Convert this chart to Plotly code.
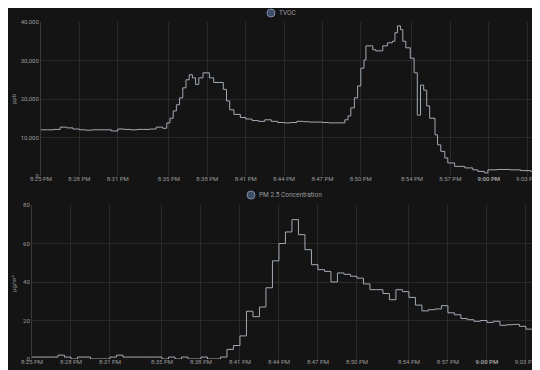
import plotly.graph_objects as go

DAY = "2023-01-01 "

TICK_TIMES = ["20:25", "20:28", "20:31", "20:35", "20:38", "20:41", "20:44",
              "20:47", "20:50", "20:54", "20:57", "21:00", "21:03"]
TICK_TEXT = ["8:25 PM", "8:28 PM", "8:31 PM", "8:35 PM", "8:38 PM", "8:41 PM", "8:44 PM",
             "8:47 PM", "8:50 PM", "8:54 PM", "8:57 PM", "<b>9:00 PM</b>", "9:03 PM"]

TVOC_TIMES = [
    "20:25:00", "20:25:30", "20:26:00", "20:26:30", "20:27:00", "20:27:30", "20:28:00",
    "20:28:30", "20:29:00", "20:29:30", "20:30:00", "20:30:30", "20:31:00", "20:31:30",
    "20:32:00", "20:32:30", "20:33:00", "20:33:30", "20:34:00", "20:34:30", "20:34:50",
    "20:35:05", "20:35:20", "20:35:35", "20:35:50", "20:36:05", "20:36:20", "20:36:35",
    "20:36:50", "20:37:05", "20:37:20", "20:37:40", "20:38:10", "20:38:30", "20:39:15",
    "20:39:30", "20:39:45", "20:40:05", "20:40:35", "20:41:00", "20:41:30", "20:42:00",
    "20:42:30", "20:43:00", "20:43:30", "20:44:00", "20:44:30", "20:45:00", "20:45:30",
    "20:46:00", "20:46:30", "20:47:00", "20:47:30", "20:48:00", "20:48:45", "20:49:00",
    "20:49:13", "20:49:30", "20:49:45", "20:50:00", "20:50:15", "20:50:24", "20:50:56",
    "20:51:10", "20:51:43", "20:52:05", "20:52:28", "20:52:40", "20:52:52", "20:53:06",
    "20:53:17", "20:53:31", "20:53:52", "20:54:10", "20:54:25", "20:54:40", "20:54:55",
    "20:55:09", "20:55:23", "20:55:48", "20:56:00", "20:56:15", "20:56:34", "20:56:48",
    "20:57:20", "20:58:08", "20:58:45", "20:59:09", "20:59:40", "20:59:56", "21:00:40",
    "21:01:40", "21:02:30", "21:03:17", "21:04:00", "21:04:40"]
TVOC_VALUES = [
    12000, 12000, 12100, 12700, 12500, 12200, 12000,
    11900, 12000, 12000, 12000, 11700, 12200, 12100,
    12000, 12100, 12100, 12200, 12700, 12400, 13800,
    15000, 16900, 18500, 20300, 22900, 25000, 26300,
    25500, 23800, 25500, 26800, 25500, 24300, 22500,
    19500, 17200, 16000, 15200, 14800, 14400, 14200,
    14600, 14200, 13900, 13800, 13900, 14200, 14100,
    14000, 14000, 13900, 13800, 13800, 14600, 15600,
    17700, 20300, 23400, 28000, 30100, 33800, 32800,
    32500, 33800, 34600, 35000, 37200, 39000, 38000,
    35000, 33300, 30600, 26800, 15800, 23600, 22300,
    18200, 15000, 10700, 8100, 6400, 4700, 3400,
    2500, 2100, 1600, 1200, 800, 1600, 1700,
    1600, 1400, 1200, 900, 800]

PM_TIMES = [
    "20:25:00", "20:25:30", "20:26:00", "20:26:30", "20:27:00", "20:27:30", "20:28:00",
    "20:28:30", "20:29:00", "20:29:30", "20:30:00", "20:30:30", "20:31:00", "20:31:30",
    "20:32:00", "20:32:30", "20:33:00", "20:33:30", "20:34:00", "20:34:30", "20:35:00",
    "20:35:30", "20:36:00", "20:36:30", "20:37:00", "20:37:30", "20:38:00", "20:38:30",
    "20:39:00", "20:39:30", "20:40:00", "20:40:30", "20:41:00", "20:41:30", "20:42:00",
    "20:42:30", "20:43:00", "20:43:30", "20:44:00", "20:44:30", "20:45:00", "20:45:30",
    "20:46:00", "20:46:30", "20:47:00", "20:47:30", "20:48:00", "20:48:30", "20:49:00",
    "20:49:30", "20:50:00", "20:50:30", "20:51:00", "20:51:30", "20:52:00", "20:52:30",
    "20:53:00", "20:53:30", "20:54:00", "20:54:30", "20:55:00", "20:55:30", "20:56:00",
    "20:56:30", "20:57:00", "20:57:30", "20:58:00", "20:58:30", "20:59:00", "20:59:30",
    "21:00:00", "21:00:30", "21:01:00", "21:01:30", "21:02:00", "21:02:30", "21:03:00",
    "21:03:30", "21:04:00", "21:04:30"]
PM_VALUES = [
    1, 1, 1, 1, 2, 1, 0,
    1, 1, 0, 0, 0, 1, 2,
    1, 1, 1, 1, 1, 1, 0,
    1, 0, 1, 0, 0, 1, 0,
    0, 1, 5, 7, 12, 24.8, 22,
    27, 37, 51, 60, 66, 72.4, 64.6,
    56.8, 49, 46.4, 45.5, 40, 44.7, 44,
    43, 42, 39, 36, 36, 34, 30.8,
    36, 35, 32, 28, 25, 25.6, 26,
    27.7, 24, 23, 21, 20.4, 19.6, 20,
    19, 19.6, 17.5, 17.8, 18, 17, 15.5,
    16, 15.2, 14.9, 13.5]

W, H = 540, 370
BG = "#141414"
GRID = "#2a2a2a"
LINE = "#a2aab4"
TXT = "#9a9a9a"
FONT = "Roboto"

fig = go.Figure()
fig.add_trace(go.Scatter(x=[DAY + t for t in TVOC_TIMES], y=TVOC_VALUES, mode="lines",
                         line=dict(color=LINE, width=1, shape="hv"),
                         xaxis="x", yaxis="y", showlegend=False, name="TVOC"))
fig.add_trace(go.Scatter(x=[DAY + t for t in PM_TIMES], y=PM_VALUES, mode="lines",
                         line=dict(color=LINE, width=1, shape="hv"),
                         xaxis="x2", yaxis="y2", showlegend=False, name="PM 2.5 Concentration"))

tickvals = [DAY + t for t in TICK_TIMES]
xcommon = dict(type="date", tickvals=tickvals, ticktext=TICK_TEXT, showgrid=True,
               gridcolor=GRID, gridwidth=1, zeroline=False, showline=False,
               tickfont=dict(family=FONT, size=6, color=TXT), ticks="", fixedrange=True,
               automargin=False, ticklabelstandoff=-2)
ycommon = dict(showgrid=True, gridcolor=GRID, gridwidth=1, zeroline=False,
               showline=True, linecolor="#3a3a3a", linewidth=1,
               tickfont=dict(family=FONT, size=6, color=TXT), ticks="", automargin=False)

fig.update_layout(
    width=W, height=H, margin=dict(l=0, r=0, t=0, b=0),
    paper_bgcolor=BG, plot_bgcolor=BG,
    xaxis=dict(**xcommon, domain=[33 / W, 1], anchor="y",
               range=[DAY + "20:25:00", DAY + "21:04:38"]),
    yaxis=dict(**ycommon, domain=[1 - 168 / H, 1 - 14 / H], anchor="x",
               range=[0, 40000], tickvals=[0, 10000, 20000, 30000, 40000],
               tickformat=","),
    xaxis2=dict(**xcommon, domain=[24 / W, 1], anchor="y2",
                range=[DAY + "20:25:00", DAY + "21:04:42"]),
    yaxis2=dict(**ycommon, domain=[1 - 351 / H, 1 - 197 / H], anchor="x2",
                range=[0, 80], tickvals=[0, 20, 40, 60, 80]),
)

def circle(cx, cy, r=4):
    return dict(type="circle", xref="paper", yref="paper",
                x0=(cx - r) / W, x1=(cx + r) / W, y0=1 - (cy + r) / H, y1=1 - (cy - r) / H,
                fillcolor="#3e4c68", line=dict(color="#7d8aa6", width=1))

fig.add_shape(circle(263, 5))
fig.add_shape(circle(243, 187))

def ann(text, x, y, angle=0, xanchor="left", size=6.5):
    fig.add_annotation(text=text, x=x / W, y=1 - y / H, xref="paper", yref="paper",
                       showarrow=False, xanchor=xanchor, yanchor="middle", textangle=angle,
                       font=dict(family=FONT, size=size, color=TXT))

ann("TVOC", 269, 5)
ann("PM 2.5 Concentration", 249, 187)
ann("ppb", 5, 91, angle=-90, xanchor="center", size=6)
ann("µg/m³", 5, 276, angle=-90, xanchor="center", size=6)

fig.write_html("out.html")
